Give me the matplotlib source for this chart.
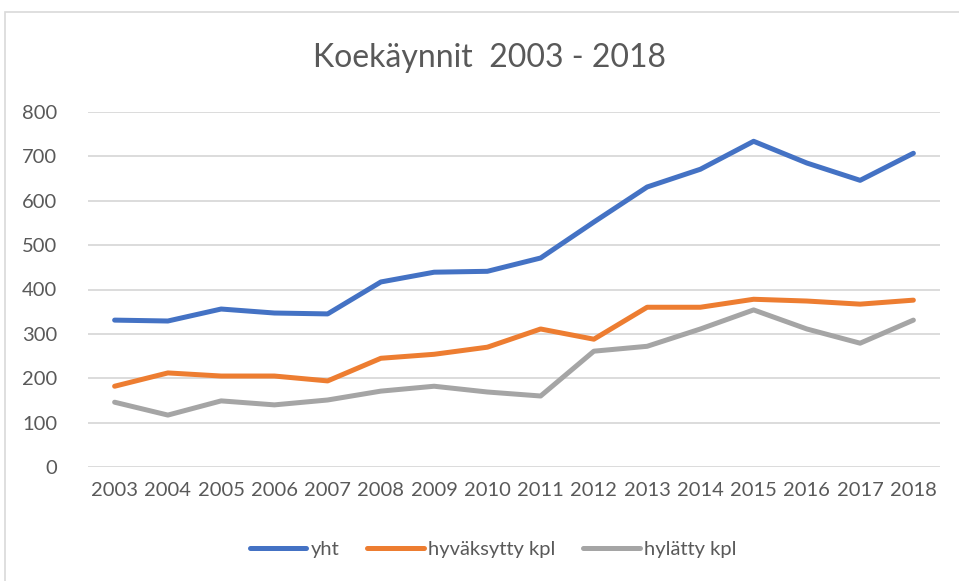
import matplotlib.pyplot as plt
from matplotlib.patches import Rectangle

years = [str(y) for y in range(2003, 2019)]
yht = [331, 329, 356, 347, 345, 417, 439, 441, 471, 552, 631, 671, 734, 685, 646, 707]
hyvaksytty = [182, 212, 205, 205, 194, 245, 254, 270, 311, 288, 360, 360, 378, 374, 367, 376]
hylatty = [146, 117, 149, 140, 151, 171, 182, 169, 160, 261, 272, 311, 354, 311, 279, 331]

plt.rcParams['font.family'] = ['Lato', 'DejaVu Sans']
txt = '#595959'

fig = plt.figure(figsize=(9.59, 5.81), dpi=100)
# chart border
fig.patches.append(Rectangle((5 / 959, -0.05), 1.0, 1 - 12 / 581 + 0.05,
                             transform=fig.transFigure, fill=False,
                             edgecolor='#D9D9D9', linewidth=1.2))

ax = fig.add_axes([88 / 959, 1 - 467 / 581, 852 / 959, 355 / 581])
x = range(len(years))
ax.plot(x, yht, color='#4472C4', lw=3.6, label='yht', solid_capstyle='round')
ax.plot(x, hyvaksytty, color='#ED7D31', lw=3.6, label='hyväksytty kpl', solid_capstyle='round')
ax.plot(x, hylatty, color='#A5A5A5', lw=3.6, label='hylätty kpl', solid_capstyle='round')

ax.set_xlim(-0.5, len(years) - 0.5)
ax.set_ylim(0, 800)
ax.set_yticks(range(0, 801, 100))
ax.set_xticks(list(x))
ax.set_xticklabels(years)
ax.grid(axis='y', color='#D9D9D9', lw=1.3)
ax.set_axisbelow(True)
for s in ax.spines.values():
    s.set_visible(False)
ax.tick_params(length=0, labelsize=14.5, colors=txt, pad=11)
ax.tick_params(axis='y', pad=22)

fig.text(0.51, 1 - 58 / 581, 'Koekäynnit  2003 - 2018', ha='center', va='center',
         fontsize=23, color=txt)

ax.legend(loc='center', bbox_to_anchor=((493 - 88) / 852, -(549 - 467) / 355),
          ncol=3, frameon=False, fontsize=14.5, labelcolor=txt,
          handlelength=2.8, handletextpad=0.2, columnspacing=1.4)

fig.savefig('out.png', dpi=100)
